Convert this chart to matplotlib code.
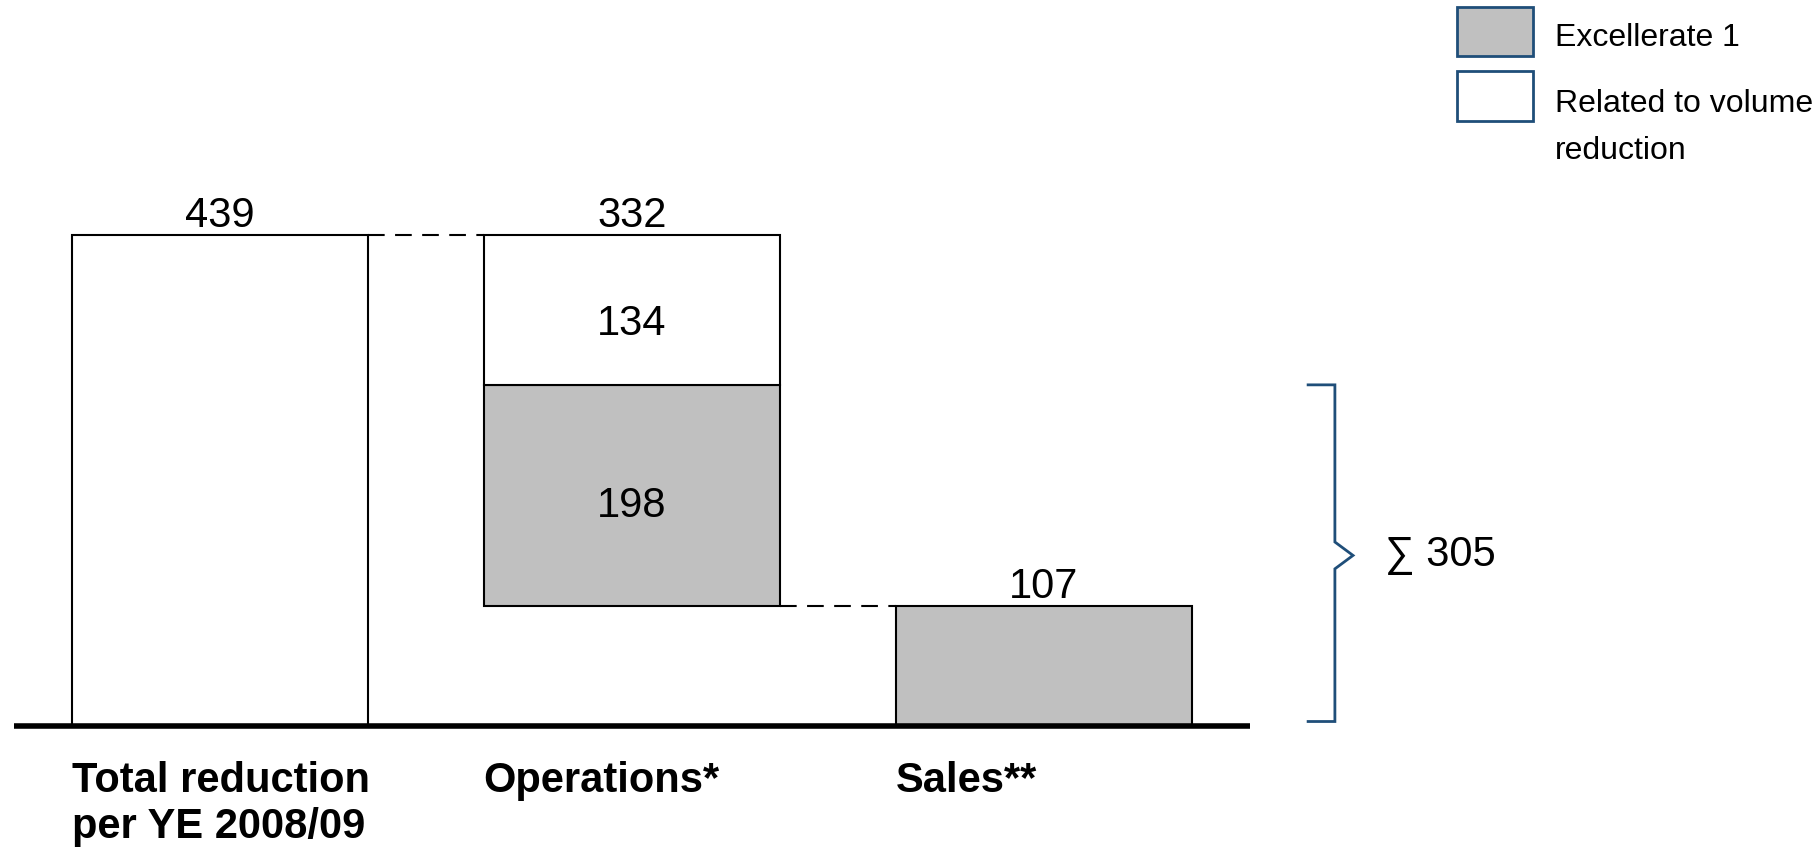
import matplotlib.pyplot as plt
from matplotlib.patches import Rectangle

# --- datos del gráfico ---
categorias = ["Total reduction\nper YE 2008/09", "Operations*", "Sales**"]
total = 439
ops_excellerate = 198
ops_volumen = 134
ventas = 107
suma_excellerate = ops_excellerate + ventas  # 305

gris = "#c0c0c0"
azul = "#1f4e79"
plt.rcParams["font.family"] = ["Liberation Sans", "DejaVu Sans"]

fig = plt.figure(figsize=(18.19, 8.48), dpi=100)
ax = fig.add_axes([0, 0, 1, 1])
ax.set_xlim(-0.534, 3.881)
ax.set_ylim(-109.1, 649.1)
ax.axis("off")

ancho = 0.72
x = [0, 1, 2]
ops_base = ventas

# barras
ax.bar(x[0], total, ancho, color="white", edgecolor="black", linewidth=1.5)
ax.bar(x[1], ops_excellerate, ancho, bottom=ops_base, color=gris,
       edgecolor="black", linewidth=1.5)
ax.bar(x[1], ops_volumen, ancho, bottom=ops_base + ops_excellerate,
       color="white", edgecolor="black", linewidth=1.5)
ax.bar(x[2], ventas, ancho, color=gris, edgecolor="black", linewidth=1.5)

# línea base
ax.plot([x[0] - 0.5, x[2] + 0.5], [0, 0], color="black", linewidth=4,
        solid_capstyle="butt", zorder=5)

# conectores punteados
ax.plot([x[0] + ancho / 2, x[1] - ancho / 2], [total, total], color="black",
        linewidth=1.5, linestyle=(0, (8, 5)))
ax.plot([x[1] + ancho / 2, x[2] - ancho / 2], [ops_base, ops_base],
        color="black", linewidth=1.5, linestyle=(0, (8, 5)))

# etiquetas de valores
pad = 7
ax.text(x[0], total + pad, str(total), ha="center", va="baseline", fontsize=30)
ax.text(x[1], ops_base + ops_excellerate + ops_volumen + pad,
        str(ops_excellerate + ops_volumen), ha="center", va="baseline", fontsize=30)
ax.text(x[2], ventas + pad, str(ventas), ha="center", va="baseline", fontsize=30)
# dentro de los segmentos (baseline un poco bajo el centro)
ax.text(x[1], ops_base + ops_excellerate + ops_volumen / 2 - 22, str(ops_volumen),
        ha="center", va="baseline", fontsize=30)
ax.text(x[1], ops_base + ops_excellerate / 2 - 19, str(ops_excellerate),
        ha="center", va="baseline", fontsize=30)

# etiquetas de categorías
for xi, cat in zip(x, categorias):
    ax.text(xi - ancho / 2, -31, cat, ha="left", va="top", fontsize=30,
            fontweight="bold", linespacing=1.22)

# llave con la suma
bx0, bx1, btip = 2.641, 2.706, 2.750
medio = suma_excellerate / 2
ax.plot([bx0, bx1, bx1, btip, bx1, bx1, bx0],
        [suma_excellerate, suma_excellerate, medio + 12, medio, medio - 12, 4, 4],
        color=azul, linewidth=2, solid_joinstyle="miter")
ax.text(2.828, medio, "\u2211 " + str(suma_excellerate), ha="left",
        va="center", fontsize=30)

# leyenda
fig.patches.append(Rectangle((0.801, 0.934), 0.042, 0.058, transform=fig.transFigure,
                             facecolor=gris, edgecolor=azul, linewidth=2))
fig.patches.append(Rectangle((0.801, 0.857), 0.042, 0.059, transform=fig.transFigure,
                             facecolor="white", edgecolor=azul, linewidth=2))
fig.text(0.855, 0.955, "Excellerate 1", ha="left", va="center", fontsize=23)
fig.text(0.855, 0.868, "Related to volume", ha="left", va="baseline", fontsize=23)
fig.text(0.855, 0.813, "reduction", ha="left", va="baseline", fontsize=23)

fig.savefig("out.png", dpi=100)
